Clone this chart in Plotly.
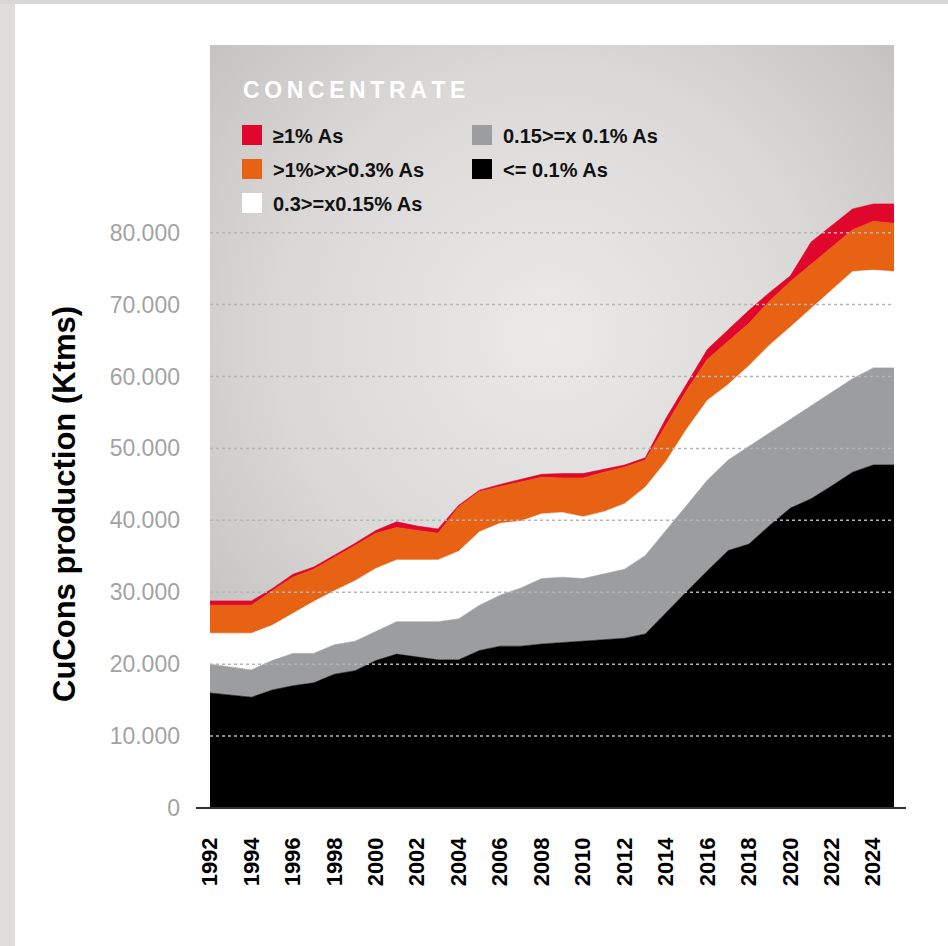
import base64
import plotly.graph_objects as go

# ---------------- data ----------------
years = list(range(1992, 2026))
tick_years = list(range(1992, 2025, 2))
y_tickvals = [0, 10000, 20000, 30000, 40000, 50000, 60000, 70000, 80000]
y_ticktext = ["0", "10.000", "20.000", "30.000", "40.000", "50.000", "60.000", "70.000", "80.000"]

series_names = ["<= 0.1% As", "0.15>=x 0.1% As", "0.3>=x0.15% As", ">1%>x>0.3% As", "≥1% As"]
series_colors = ["#000000", "#9c9d9f", "#ffffff", "#e86214", "#e0062c"]

as_le_01 = [16000, 15700, 15400, 16400, 17000, 17400, 18600, 19100, 20500, 21400, 21000, 20600,
            20600, 21900, 22500, 22500, 22800, 23000, 23200, 23400, 23600, 24200, 27200, 30100,
            33000, 35800, 36700, 39300, 41700, 43000, 44800, 46700, 47700, 47700]
as_015_01 = [4000, 3900, 3800, 4100, 4500, 4100, 4100, 4100, 4100, 4500, 4900, 5300,
             5700, 6300, 7100, 8100, 9100, 9100, 8700, 9200, 9600, 10900, 11400, 12000,
             12600, 12600, 13600, 12900, 12300, 12900, 13000, 13000, 13500, 13500]
as_03_015 = [4300, 4700, 5100, 4900, 5600, 7200, 7500, 8400, 8700, 8600, 8600, 8600,
             9400, 10200, 10000, 9300, 9000, 9000, 8600, 8600, 9100, 9500, 9600, 10600,
             11100, 10500, 11200, 12200, 12900, 13600, 14300, 14900, 13600, 13400]
as_1_03 = [3900, 3900, 3900, 4800, 5000, 4500, 4600, 4900, 4900, 4500, 4100, 3700,
           6200, 5600, 5100, 5400, 5100, 4800, 5400, 5500, 5100, 3800, 5100, 5400,
           5700, 6000, 5900, 6100, 6300, 6100, 5900, 5800, 6800, 6700]
as_ge1 = [600, 600, 600, 300, 400, 300, 300, 300, 400, 800, 600, 600,
          200, 200, 300, 400, 400, 600, 600, 400, 300, 300, 900, 900,
          1400, 1600, 1800, 1200, 800, 3100, 3000, 2900, 2400, 2700]

series_values = [as_le_01, as_015_01, as_03_015, as_1_03, as_ge1]

# ---------------- layout geometry (pixels) ----------------
FIG_W, FIG_H = 948, 946
L, R, T, B = 210, 894, 45, 808
W, H = R - L, B - T


def px(x):
    return (x - L) / W


def py(y):
    return (B - y) / H


FONT = "Liberation Sans, Arial, Helvetica, sans-serif"

fig = go.Figure()
for name, vals, col in zip(series_names, series_values, series_colors):
    fig.add_trace(go.Scatter(
        x=years, y=vals, name=name, mode="lines", stackgroup="one",
        line=dict(width=0.6, color=col), fillcolor=col, showlegend=False,
    ))

# gradient background as svg image
svg = ('<svg xmlns="http://www.w3.org/2000/svg" width="684" height="763" viewBox="0 0 684 763" '
       'preserveAspectRatio="none"><defs><radialGradient id="g" gradientUnits="userSpaceOnUse" '
       'cx="340" cy="290" r="500"><stop offset="0" stop-color="#ebeae9"/>'
       '<stop offset="0.55" stop-color="#d9d8d6"/>'
       '<stop offset="1" stop-color="#bebdbb"/></radialGradient></defs>'
       '<rect width="684" height="763" fill="url(#g)"/></svg>')
src = "data:image/svg+xml;base64," + base64.b64encode(svg.encode()).decode()

shapes = []
# page frame
shapes.append(dict(type="rect", xref="paper", yref="paper", x0=px(0), x1=px(15), y0=py(FIG_H), y1=py(0),
                   fillcolor="#dfdedc", line=dict(width=0), layer="below"))
shapes.append(dict(type="rect", xref="paper", yref="paper", x0=px(0), x1=px(FIG_W), y0=py(4), y1=py(0),
                   fillcolor="#d9d7d5", line=dict(width=0), layer="below"))
# dotted gridlines on top of the areas
for v in y_tickvals[1:]:
    shapes.append(dict(type="line", xref="x", yref="y", x0=years[0], x1=years[-1], y0=v, y1=v,
                       line=dict(color="#b5b5b5", width=1.5, dash="dot"), layer="above"))
# x axis line
shapes.append(dict(type="line", xref="paper", yref="paper", x0=px(196), x1=px(906), y0=0, y1=0,
                   line=dict(color="#333333", width=2), layer="above"))

# custom legend
annotations = []
annotations.append(dict(text="<b>C\u2009O\u2009N\u2009C\u2009E\u2009N\u2009T\u2009R\u2009A\u2009T\u2009E</b>",
                        xref="paper", yref="paper", x=px(241), y=py(90.5), xanchor="left", yanchor="middle",
                        showarrow=False, font=dict(family=FONT, size=23, color="#ffffff")))
legend_pos = [(472, 169), (472, 135), (242, 203), (242, 169), (242, 135)]
for name, col, (lx, ly) in zip(series_names, series_colors, legend_pos):
    shapes.append(dict(type="rect", xref="paper", yref="paper", x0=px(lx), x1=px(lx + 20),
                       y0=py(ly + 10), y1=py(ly - 10), fillcolor=col, line=dict(width=0), layer="above"))
    annotations.append(dict(text="<b>" + name.replace("<", "&lt;").replace(">", "&gt;") + "</b>",
                            xref="paper", yref="paper", x=px(lx + 29), y=py(ly + 1),
                            xanchor="left", yanchor="middle", showarrow=False,
                            font=dict(family=FONT, size=20, color="#111111")))
# y-axis title
annotations.append(dict(text="<b>CuCons production (Ktms)</b>", xref="paper", yref="paper",
                        x=px(64), y=py(504), textangle=-90, xanchor="center", yanchor="middle",
                        showarrow=False, font=dict(family=FONT, size=31, color="#000000")))

fig.update_layout(
    width=FIG_W, height=FIG_H,
    margin=dict(l=L, r=FIG_W - R, t=T, b=FIG_H - B, pad=0),
    paper_bgcolor="#ffffff", plot_bgcolor="rgba(0,0,0,0)",
    images=[dict(source=src, xref="paper", yref="paper", x=0, y=1, sizex=1, sizey=1,
                 sizing="stretch", xanchor="left", yanchor="top", layer="below")],
    shapes=shapes, annotations=annotations,
    xaxis=dict(range=[years[0], years[-1]], tickvals=tick_years, ticktext=[str(y) for y in tick_years],
               tickangle=-90, showgrid=False, zeroline=False, showline=False, ticks="",
               ticklabelstandoff=24,
               tickfont=dict(family=FONT, size=22, color="#000000", weight="bold")),
    yaxis=dict(range=[0, 106100], tickvals=y_tickvals, ticktext=y_ticktext, showgrid=False,
               zeroline=False, showline=False, ticks="", ticklabelstandoff=29,
               tickfont=dict(family=FONT, size=23, color="#a3a3a3")),
    hovermode=False,
)

fig.write_html("out.html")
